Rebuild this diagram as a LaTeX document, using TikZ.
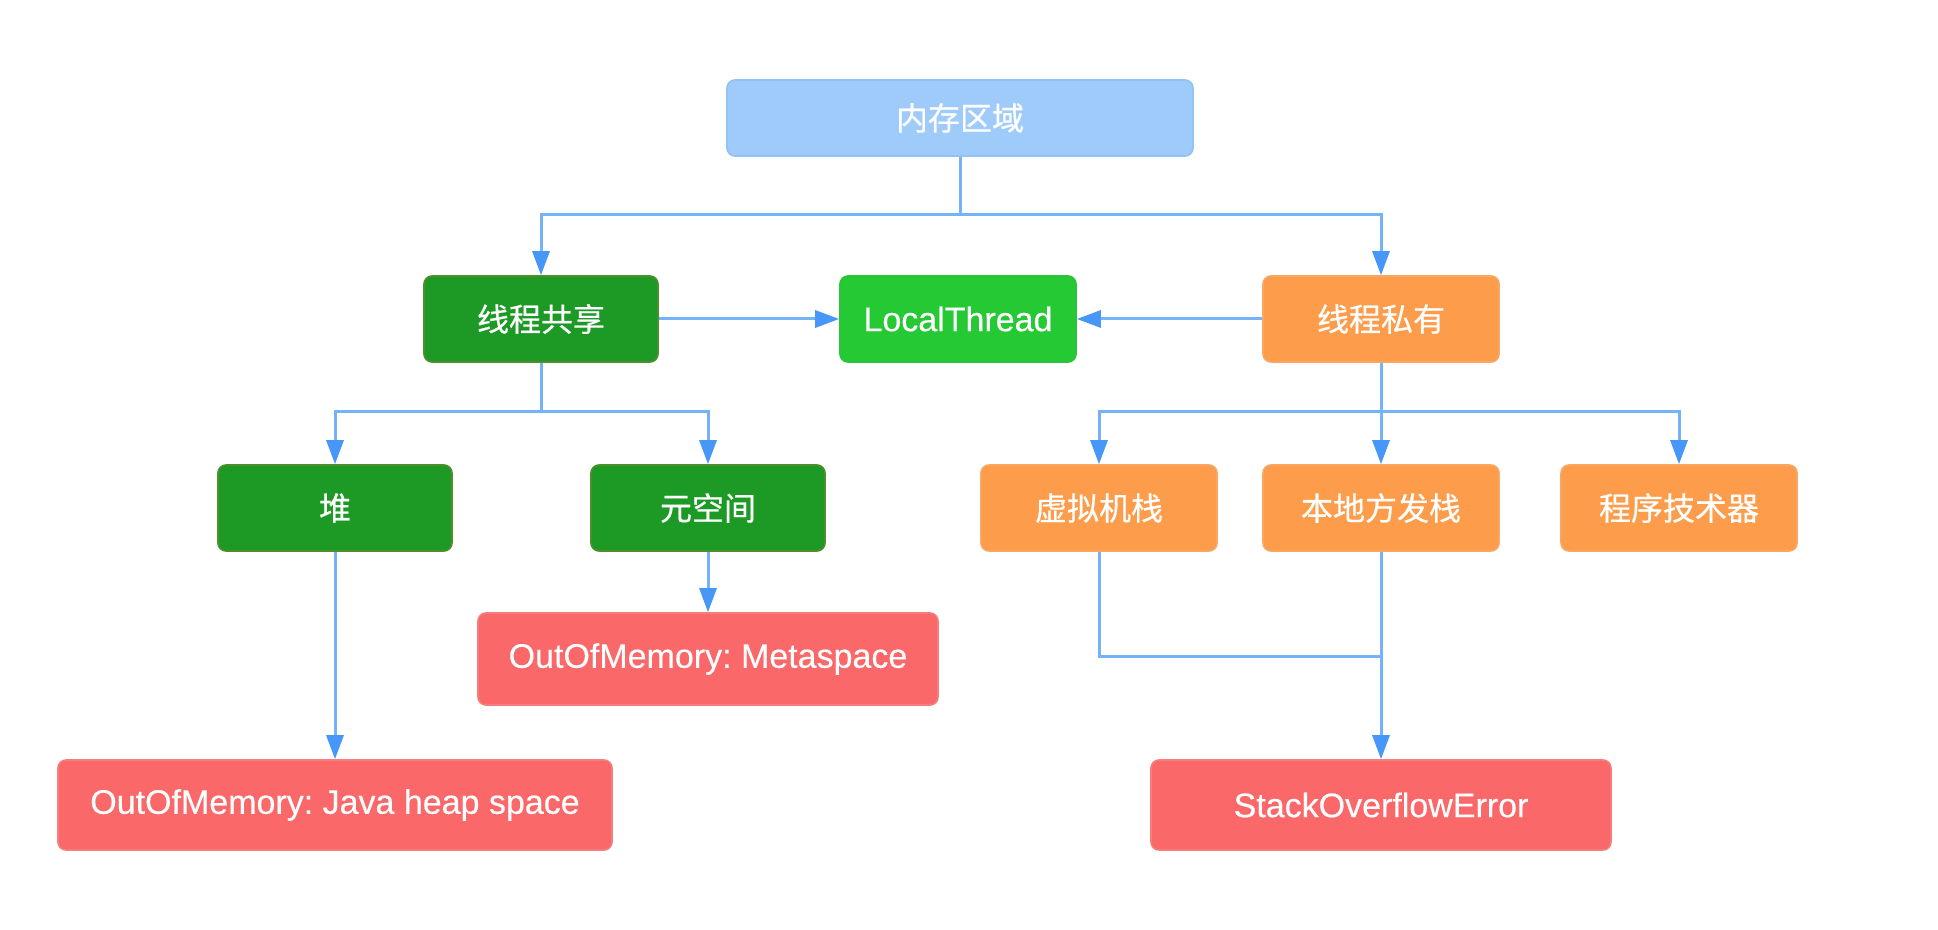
\documentclass[tikz,border=0pt]{standalone}
\usepackage{fontspec}
\setmainfont{Liberation Sans}[FakeBold=0.3]
\newfontfamily\cjk{Noto Sans CJK SC}[FakeBold=0.6]
\usetikzlibrary{arrows.meta}
\frenchspacing
\definecolor{memblue}{HTML}{9FCBFA}
\definecolor{memline}{HTML}{93C2F5}
\definecolor{darkgreen}{HTML}{1C9A25}
\definecolor{darkgreenline}{HTML}{4E8F2B}
\definecolor{brightgreen}{HTML}{25C934}
\definecolor{brightgreenline}{HTML}{2BC339}
\definecolor{orangebox}{HTML}{FD9C4A}
\definecolor{orangeline}{HTML}{F7A761}
\definecolor{redbox}{HTML}{FA6869}
\definecolor{redline}{HTML}{F57D7D}
\definecolor{connline}{HTML}{74B3F8}
\definecolor{arrowblue}{HTML}{4697F8}
\tikzset{
  nodebox/.style={rectangle, rounded corners=4pt, inner sep=0pt, text=white, line width=0.8pt},
  memstyle/.style={nodebox, fill=memblue, draw=memline, minimum width=233pt, minimum height=38pt, font=\cjk\fontsize{16pt}{18pt}\selectfont},
  greenstyle/.style={nodebox, fill=darkgreen, draw=darkgreenline, minimum width=117pt, minimum height=43pt, font=\cjk\fontsize{16pt}{18pt}\selectfont},
  localstyle/.style={nodebox, fill=brightgreen, draw=brightgreenline, minimum width=118pt, minimum height=43pt, font=\fontsize{17pt}{19pt}\selectfont},
  orangestyle/.style={nodebox, fill=orangebox, draw=orangeline, minimum width=118pt, minimum height=43pt, font=\cjk\fontsize{16pt}{18pt}\selectfont},
  redstyle/.style={nodebox, fill=redbox, draw=redline, minimum height=45pt, font=\fontsize{17pt}{19pt}\selectfont},
  conn/.style={draw=connline, line width=1.5pt},
  arr/.style={conn, -{Triangle[width=8.5pt,length=12pt,color=arrowblue]}}
}
\begin{document}
\begin{tikzpicture}[x=0.5pt,y=-0.5pt]
\useasboundingbox (0,0) rectangle (1938,930);
\fill[white] (0,0) rectangle (1938,930);

\node[memstyle] (mem) at (960,118) {内存区域};
\node[greenstyle] (share) at (541,319) {线程共享};
\node[localstyle] (local) at (958,319) {LocalThread};
\node[orangestyle] (private) at (1381,319) {线程私有};
\node[greenstyle] (heap) at (335,508) {堆};
\node[greenstyle] (meta) at (708,508) {元空间};
\node[orangestyle] (vm) at (1099,508) {虚拟机栈};
\node[orangestyle] (native) at (1381,508) {本地方发栈};
\node[orangestyle] (pc) at (1679,508) {程序技术器};
\node[redstyle, minimum width=230pt, minimum height=46pt] (oometa) at (708,659) {OutOfMemory: Metaspace};
\node[redstyle, minimum width=277pt] (ooheap) at (335,805) {OutOfMemory: Java heap space};
\node[redstyle, minimum width=230pt] (soe) at (1381,805) {StackOverflowError};

\coordinate (j1) at (960,215);
\coordinate (j2) at (541,412);
\coordinate (j3) at (1381,412);
\coordinate (j4) at (1381,656);

\draw[conn] (mem.south) -- (j1);
\draw[arr] (j1) -| (share.north);
\draw[arr] (j1) -| (private.north);
\draw[arr] (share.east) -- (local.west);
\draw[arr] (private.west) -- (local.east);
\draw[conn] (share.south) -- (j2);
\draw[arr] (j2) -| (heap.north);
\draw[arr] (j2) -| (meta.north);
\draw[conn] (private.south) -- (j3);
\draw[arr] (j3) -| (vm.north);
\draw[arr] (j3) -| (pc.north);
\draw[arr] (j3) -- (native.north);
\draw[arr] (heap.south) -- (ooheap.north);
\draw[arr] (meta.south) -- (oometa.north);
\draw[conn] (vm.south) |- (j4);
\draw[arr] (native.south) -- (soe.north);
\end{tikzpicture}
\end{document}
